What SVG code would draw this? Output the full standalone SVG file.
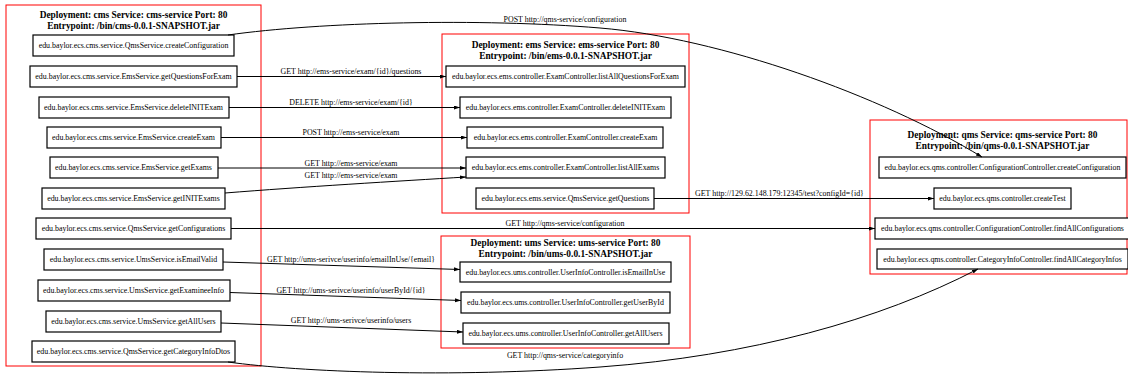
<svg xmlns="http://www.w3.org/2000/svg" width="1128" height="377" viewBox="0 0 1128 377">
<defs>
<style>
.cl{fill:none;stroke:#ff0000;stroke-width:1}
.nd rect{fill:#ffffff;stroke:#000000;stroke-width:1.2}
text{font-family:"Liberation Serif","Times New Roman",serif;font-size:7.9px;text-anchor:middle;fill:#000000}
.h{font-weight:bold;font-size:9.4px}
.e{fill:none;stroke:#000000;stroke-width:1}
.e path{marker-end:url(#arr)}
</style>
<marker id="arr" markerUnits="userSpaceOnUse" markerWidth="7" markerHeight="5" refX="6" refY="2" orient="auto">
<path d="M0,0 L6,2 L0,4 z" fill="#000000" stroke="none"/>
</marker>
</defs>
<rect width="1128" height="377" fill="#ffffff"/>

<g id="cluster-cms">
<rect class="cl" x="6" y="5" width="255" height="361"/>
<text class="h" x="133.5" y="17.5">Deployment: cms Service: cms-service Port: 80</text>
<text class="h" x="133.5" y="28.5">Entrypoint: /bin/cms-0.0.1-SNAPSHOT.jar</text>
</g>
<g id="cluster-ems">
<rect class="cl" x="442" y="34" width="247" height="179"/>
<text class="h" x="565.5" y="48">Deployment: ems Service: ems-service Port: 80</text>
<text class="h" x="565.5" y="59">Entrypoint: /bin/ems-0.0.1-SNAPSHOT.jar</text>
</g>
<g id="cluster-ums">
<rect class="cl" x="441" y="236" width="249" height="112"/>
<text class="h" x="565.5" y="246">Deployment: ums Service: ums-service Port: 80</text>
<text class="h" x="565.5" y="257">Entrypoint: /bin/ums-0.0.1-SNAPSHOT.jar</text>
</g>
<g id="cluster-qms">
<rect class="cl" x="870" y="120" width="257" height="154"/>
<text class="h" x="1002.5" y="137.5">Deployment: qms Service: qms-service Port: 80</text>
<text class="h" x="1002.5" y="148.5">Entrypoint: /bin/qms-0.0.1-SNAPSHOT.jar</text>
</g>

<g id="cms-createConfiguration" class="nd"><rect x="33" y="35" width="201" height="21"/><text x="133.5" y="48.2">edu.baylor.ecs.cms.service.QmsService.createConfiguration</text></g>
<g id="cms-getQuestionsForExam" class="nd"><rect x="30" y="66" width="207" height="21"/><text x="133.5" y="79.2">edu.baylor.ecs.cms.service.EmsService.getQuestionsForExam</text></g>
<g id="cms-deleteINITExam" class="nd"><rect x="39" y="97" width="190" height="21"/><text x="133.5" y="110.2">edu.baylor.ecs.cms.service.EmsService.deleteINITExam</text></g>
<g id="cms-createExam" class="nd"><rect x="47" y="127" width="174" height="21"/><text x="133.5" y="140.2">edu.baylor.ecs.cms.service.EmsService.createExam</text></g>
<g id="cms-getExams" class="nd"><rect x="50" y="157" width="168" height="21"/><text x="133.5" y="170.2">edu.baylor.ecs.cms.service.EmsService.getExams</text></g>
<g id="cms-getINITExams" class="nd"><rect x="42" y="188" width="183" height="21"/><text x="133.5" y="201.2">edu.baylor.ecs.cms.service.EmsService.getINITExams</text></g>
<g id="cms-getConfigurations" class="nd"><rect x="36" y="218" width="195" height="21"/><text x="133.5" y="231.2">edu.baylor.ecs.cms.service.QmsService.getConfigurations</text></g>
<g id="cms-isEmailValid" class="nd"><rect x="44" y="249" width="179" height="21"/><text x="133.5" y="262.2">edu.baylor.ecs.cms.service.UmsService.isEmailValid</text></g>
<g id="cms-getExamineeInfo" class="nd"><rect x="38" y="280" width="192" height="21"/><text x="133.5" y="293.2">edu.baylor.ecs.cms.service.UmsService.getExamineeInfo</text></g>
<g id="cms-getAllUsers" class="nd"><rect x="46" y="311" width="175" height="21"/><text x="133.5" y="324.2">edu.baylor.ecs.cms.service.UmsService.getAllUsers</text></g>
<g id="cms-getCategoryInfoDtos" class="nd"><rect x="32" y="341" width="203" height="21"/><text x="133.5" y="354.2">edu.baylor.ecs.cms.service.QmsService.getCategoryInfoDtos</text></g>

<g id="ems-listAllQuestionsForExam" class="nd"><rect x="446" y="66" width="239" height="21"/><text x="565.5" y="79.2">edu.baylor.ecs.ems.controller.ExamController.listAllQuestionsForExam</text></g>
<g id="ems-deleteINITExam" class="nd"><rect x="460" y="97" width="211" height="21"/><text x="565.5" y="110.2">edu.baylor.ecs.ems.controller.ExamController.deleteINITExam</text></g>
<g id="ems-createExam" class="nd"><rect x="467" y="127" width="196" height="21"/><text x="565.5" y="140.2">edu.baylor.ecs.ems.controller.ExamController.createExam</text></g>
<g id="ems-listAllExams" class="nd"><rect x="466" y="157" width="199" height="21"/><text x="565.5" y="170.2">edu.baylor.ecs.ems.controller.ExamController.listAllExams</text></g>
<g id="ems-getQuestions" class="nd"><rect x="476" y="188" width="178" height="21"/><text x="565.5" y="201.2">edu.baylor.ecs.ems.service.QmsService.getQuestions</text></g>

<g id="ums-isEmailInUse" class="nd"><rect x="460" y="262" width="211" height="20"/><text x="565.5" y="274.7">edu.baylor.ecs.ums.controller.UserInfoController.isEmailInUse</text></g>
<g id="ums-getUserById" class="nd"><rect x="461" y="292" width="209" height="21"/><text x="565.5" y="305.2">edu.baylor.ecs.ums.controller.UserInfoController.getUserById</text></g>
<g id="ums-getAllUsers" class="nd"><rect x="463" y="323" width="206" height="21"/><text x="565.5" y="336.2">edu.baylor.ecs.ums.controller.UserInfoController.getAllUsers</text></g>

<g id="qms-createConfiguration" class="nd"><rect x="879" y="157" width="247" height="21"/><text x="1002.5" y="170.2">edu.baylor.ecs.qms.controller.ConfigurationController.createConfiguration</text></g>
<g id="qms-createTest" class="nd"><rect x="934" y="188" width="137" height="21"/><text x="1002.5" y="201.2">edu.baylor.ecs.qms.controller.createTest</text></g>
<g id="qms-findAllConfigurations" class="nd"><rect x="875" y="218" width="255" height="21"/><text x="1002.5" y="231.2">edu.baylor.ecs.qms.controller.ConfigurationController.findAllConfigurations</text></g>
<g id="qms-findAllCategoryInfos" class="nd"><rect x="877" y="249" width="251" height="20"/><text x="1002.5" y="261.7">edu.baylor.ecs.qms.controller.CategoryInfoController.findAllCategoryInfos</text></g>

<g id="connectors" class="e">
<path d="M228,35 C320,22 480,18 600,28 C720,38 880,95 982,157"/>
<path d="M237,76.5 L446,76.5"/>
<path d="M229,107.5 L460,107.5"/>
<path d="M221,137.5 L467,137.5"/>
<path d="M218,168 L466,168"/>
<path d="M225,193 C300,187 400,181 466,177"/>
<path d="M654,198.5 L934,198.5"/>
<path d="M231,228.5 L875,228.5"/>
<path d="M223,262 L460,269.5"/>
<path d="M230,292.5 L461,300.5"/>
<path d="M221,323 L463,332"/>
<path d="M228,362 C300,372 450,378 600,367 C750,356 880,320 978,269"/>
</g>
<g id="connector-labels">
<text x="565" y="22">POST http://qms-service/configuration</text>
<text x="351" y="73.5">GET http://ems-service/exam/{id}/questions</text>
<text x="351" y="104.5">DELETE http://ems-service/exam/{id}</text>
<text x="351" y="135">POST http://ems-service/exam</text>
<text x="351" y="166">GET http://ems-service/exam</text>
<text x="351" y="177.5">GET http://ems-service/exam</text>
<text x="779.5" y="196">GET http://129.62.148.179:12345/test?configId={id}</text>
<text x="565" y="226">GET http://qms-service/configuration</text>
<text x="351" y="261.5">GET http://ums-serivce/userinfo/emailInUse/{email}</text>
<text x="351" y="292.5">GET http://ums-serivce/userinfo/userById/{id}</text>
<text x="351" y="322.5">GET http://ums-serivce/userinfo/users</text>
<text x="565" y="357.5">GET http://qms-service/categoryinfo</text>
</g>
</svg>
